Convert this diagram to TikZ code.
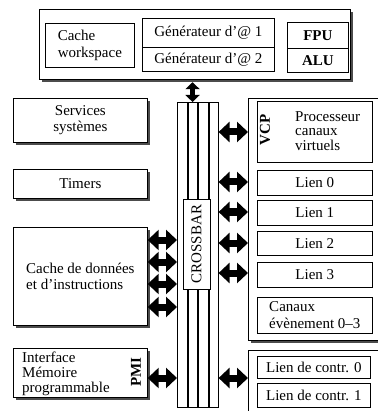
\documentclass[tikz,border=0pt]{standalone}
\usepackage{fontspec}
\setmainfont{Liberation Serif}
\usetikzlibrary{calc,positioning,arrows.meta,shadows}

\begin{document}
\begin{tikzpicture}[x=1pt, y=-1pt]
\fontsize{15}{16.5}\selectfont
\tikzstyle{blk}=[draw, line width=0.7pt, fill=white, inner sep=0pt, anchor=north west]
\tikzstyle{shd}=[blk, drop shadow={shadow xshift=2.5pt, shadow yshift=-2.5pt,
                        fill=black!70, opacity=1}]
\tikzstyle{bar}=[draw, line width=0.6pt, fill=white, inner sep=0pt,
                        anchor=north west, minimum width=9.5pt, minimum height=305pt]
\tikzstyle{dar}=[line width=7pt,
                 {Triangle[length=11pt,width=20pt]}-{Triangle[length=11pt,width=20pt]}]
\tikzstyle{sdar}=[line width=5.5pt,
                 {Triangle[length=7pt,width=14pt]}-{Triangle[length=7pt,width=14pt]}]
\tikzstyle{lbl}=[font=\bfseries, rotate=90, inner sep=0pt]
\useasboundingbox (0,0) rectangle (377,411);

% processeur
\node[shd, minimum width=311pt, minimum height=70pt] (cpu) at (39,9) {};
\node[blk, minimum width=89pt, minimum height=44pt, align=left] (wsp) at (45,23) {Cache\\workspace};
\node[blk, minimum width=132pt, minimum height=29pt] (gen1) at (142,18) {Générateur d'@ 1};
\node[blk, minimum width=132pt, minimum height=24pt] (gen2) at (142,47) {Générateur d'@ 2};
\node[blk, minimum width=61pt, minimum height=26pt, font=\bfseries] (fpu) at (287,22) {FPU};
\node[blk, minimum width=61pt, minimum height=24pt, font=\bfseries] (alu) at (287,48) {ALU};

% colonne de gauche
\node[shd, minimum width=134pt, minimum height=44pt, align=center] (svc) at (13,98) {Services\\systèmes};
\node[shd, minimum width=134pt, minimum height=29pt] (tmr) at (13,169) {Timers};
\node[shd, minimum width=134pt, minimum height=98pt, align=left] (cache) at (13,227) {Cache de données\\et d'instructions};
\node[shd, minimum width=134pt, minimum height=49pt] (pmi) at (13,348) {};
\node[align=left, anchor=west, inner sep=0pt, font=\fontsize{15}{15}\selectfont] (pmitxt) at (22,374) {Interface\\Mémoire\\programmable};
\node[lbl] (pmilbl) at (136,372) {PMI};

% crossbar
\node[bar] (xb1) at (177,102) {};
\node[bar] (xb2) at (187.5,102) {};
\node[bar] (xb3) at (198,102) {};
\node[bar] (xb4) at (208.5,102) {};
\node[blk, anchor=center, rotate=90, minimum width=90pt, minimum height=27pt] (xbar) at (196.5,244) {CROSSBAR};

% colonne de droite
\node[shd, minimum width=135pt, minimum height=242pt] (grp1) at (248,98) {};
\node[shd, minimum width=135pt, minimum height=70pt] (grp2) at (248,350) {};
\node[blk, minimum width=115pt, minimum height=61pt] (vcp) at (257,101) {};
\node[lbl] (vcplbl) at (265,130) {VCP};
\node[align=left, anchor=west, inner sep=0pt, font=\fontsize{15}{14.5}\selectfont] (vcptxt) at (295,131) {Processeur\\canaux\\virtuels};
\node[blk, minimum width=115pt, minimum height=25pt] (l0) at (257,170) {Lien 0};
\node[blk, minimum width=115pt, minimum height=25pt] (l1) at (257,200) {Lien 1};
\node[blk, minimum width=115pt, minimum height=24pt] (l2) at (257,231) {Lien 2};
\node[blk, minimum width=115pt, minimum height=25pt] (l3) at (257,262) {Lien 3};
\node[blk, minimum width=115pt, minimum height=36pt, align=left] (evt) at (257,297) {Canaux\\évènement 0--3};
\node[blk, minimum width=113pt, minimum height=22pt] (lc0) at (257,356) {Lien de contr. 0};
\node[blk, minimum width=113pt, minimum height=24pt] (lc1) at (257,383) {Lien de contr. 1};

% fleches
\draw[sdar] ([yshift=-2.5pt]cpu.south -| xb2.north) -- (xb2.north);
\foreach \yy in {240,262,284,307}
  \draw[dar] (cache.east |- 0,\yy) -- (xb1.west |- 0,\yy);
\draw[dar] (pmi.east |- 0,378) -- (xb1.west |- 0,378);
\foreach \yy in {132,182,212,243,273}
  \draw[dar] (xb4.east |- 0,\yy) -- (grp1.west |- 0,\yy);
\draw[dar] (xb4.east |- 0,378) -- (grp2.west |- 0,378);
\end{tikzpicture}
\end{document}
